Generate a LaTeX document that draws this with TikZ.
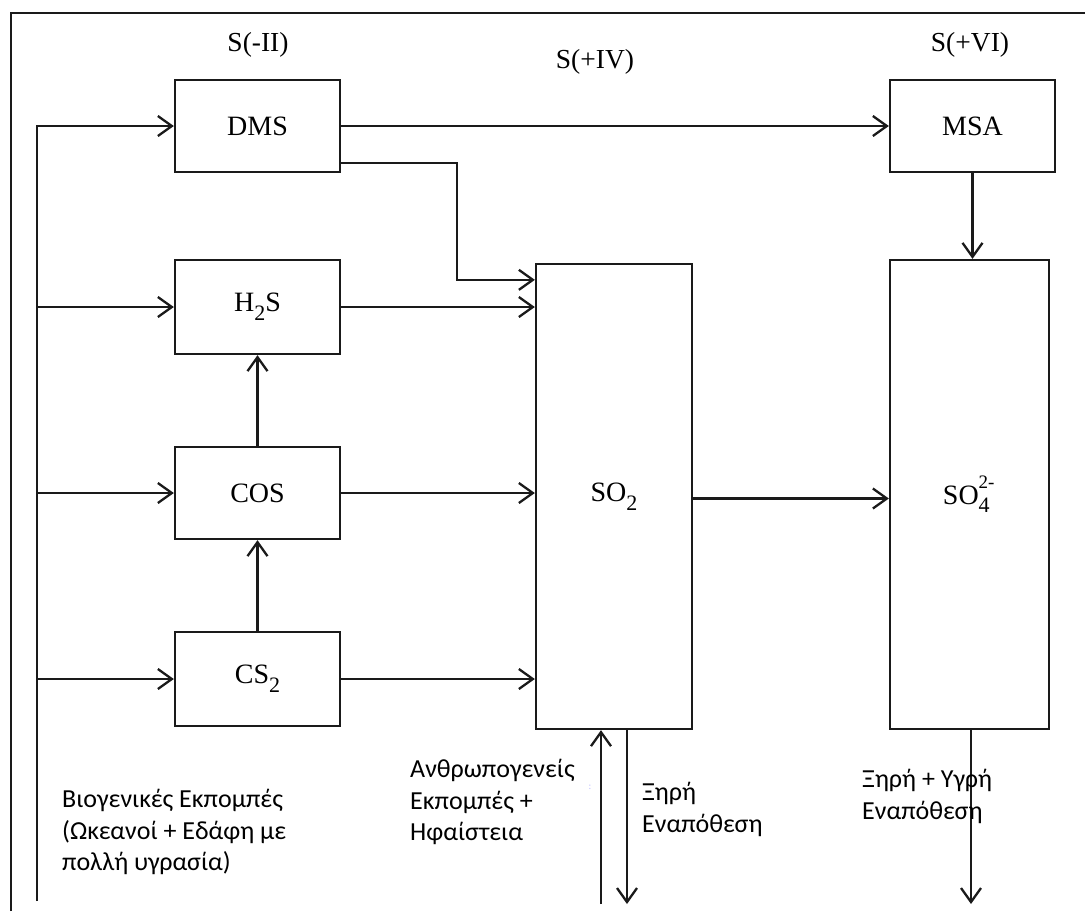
\documentclass[tikz,border=0pt]{standalone}
\usepackage{fontspec}
\setmainfont{Liberation Serif}
\newfontfamily\grk{Carlito}
\usetikzlibrary{arrows.meta}
\definecolor{linec}{HTML}{1A1A1A}
\newcommand\mysub[1]{\raisebox{-0.32em}{\fontsize{22}{22}\selectfont #1}}
\newcommand\mysup[1]{\raisebox{0.55em}{\fontsize{19}{19}\selectfont #1}}
\begin{document}
\begin{tikzpicture}[x=1pt,y=-1pt,
  box/.style={draw=linec, line width=2.3pt, minimum width=165pt, minimum height=92pt, inner sep=0pt, font=\fontsize{28}{30}\selectfont},
  conn/.style={draw=linec, line width=2.3pt, -{Straight Barb[length=14pt,width=20pt]}},
  plain/.style={draw=linec, line width=2.3pt},
  lbl/.style={font=\fontsize{27.5}{30}\selectfont, inner sep=0pt},
  grtxt/.style={font=\grk\fontsize{26}{31.5}\selectfont, align=left, anchor=north west, inner sep=0pt}]
\useasboundingbox (0,0) rectangle (1085,911);
\fill[white] (0,0) rectangle (1085,911);
% frame
\draw[plain] (11,911) -- (11,13) -- (1085,13);
% header labels
\node[lbl] (l1) at (258,45) {S(-II)};
\node[lbl] (l2) at (595,62) {S(+IV)};
\node[lbl] (l3) at (970,45) {S(+VI)};
% boxes
\node[box] (dms) at (257.5,126) {DMS};
\node[box, minimum height=94pt] (h2s) at (257.5,307) {H\mysub{2}S};
\node[box] (cos) at (257.5,493) {COS};
\node[box, minimum height=94pt] (cs2) at (257.5,679) {CS\mysub{2}};
\node[box] (msa) at (972.5,126) {MSA};
\node[box, minimum width=156pt, minimum height=465pt] (so2) at (614,496.5) {SO\mysub{2}};
\node[box, minimum width=159pt, minimum height=469pt] (so4) at (969.5,494.5) {SO\rlap{\mysup{2-}}\mysub{4}\hphantom{\fontsize{19}{19}\selectfont -}};
% left feed line
\coordinate (lb) at (37,901);
\draw[conn] (lb) |- (dms.west);
\draw[conn] (lb |- h2s.west) -- (h2s.west);
\draw[conn] (lb |- cos.west) -- (cos.west);
\draw[conn] (lb |- cs2.west) -- (cs2.west);
% DMS outputs
\draw[conn] (dms.east) -- (msa.west);
\coordinate (turn) at (457,220);
\draw[conn] ([yshift=-37pt]dms.east) -| (turn) |- ([yshift=-17pt]so2.north west);
% into SO2
\draw[conn] (h2s.east) -- (so2.west |- h2s.east);
\draw[conn] (cos.east) -- (so2.west |- cos.east);
\draw[conn] (cs2.east) -- (so2.west |- cs2.east);
% vertical
\draw[conn] (cos.north) -- (h2s.south);
\draw[conn] (cs2.north) -- (cos.south);
% SO2 -> SO4, MSA -> SO4
\draw[conn] ([yshift=-2pt]so2.east) -- ([yshift=-2pt]so4.west |- so2.east);
\draw[conn] (msa.south) -- (so4.north -| msa.south);
% bottom arrows
\coordinate (ub) at (601,904);
\coordinate (db) at (627,904);
\coordinate (sb) at (971,904);
\draw[conn] (ub) -- (so2.south -| ub);
\draw[conn] (so2.south -| db) -- (db);
\draw[conn] (so4.south -| sb) -- (sb);
% texts
\node[grtxt] (bio) at (62,789) {Βιογενικές Εκπομπές\\(Ωκεανοί + Εδάφη με\\πολλή υγρασία)};
\node[grtxt] (anth) at (410,759) {Ανθρωπογενείς\\Εκπομπές +\\Ηφαίστεια};
\node[grtxt] (dry) at (642,782) {Ξηρή\\Εναπόθεση};
\node[grtxt] (wet) at (862,769) {Ξηρή + Υγρή\\Εναπόθεση};
\node[text=blue!25, font=\grk\fontsize{10}{10}\selectfont, inner sep=0pt] (dot) at (590,787) {:};
\end{tikzpicture}
\end{document}
